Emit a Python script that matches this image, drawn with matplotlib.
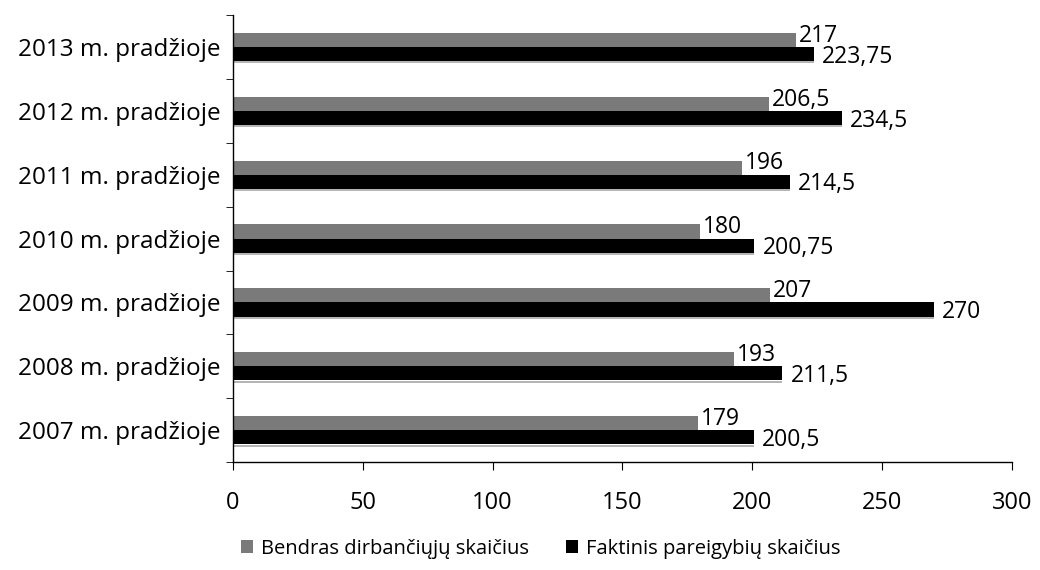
import matplotlib
matplotlib.use("Agg")
import matplotlib.pyplot as plt
import numpy as np

categories = ["2007 m. pradžioje", "2008 m. pradžioje", "2009 m. pradžioje",
              "2010 m. pradžioje", "2011 m. pradžioje", "2012 m. pradžioje",
              "2013 m. pradžioje"]
bendras = [179, 193, 207, 180, 196, 206.5, 217]
faktinis = [200.5, 211.5, 270, 200.75, 214.5, 234.5, 223.75]
series_names = ["Bendras dirbančiųjų skaičius", "Faktinis pareigybių skaičius"]
xticks = [0, 50, 100, 150, 200, 250, 300]

plt.rcParams['font.family'] = ['Open Sans', 'DejaVu Sans']

def fmt(v):
    s = ("%g" % v)
    return s.replace(".", ",")

fig = plt.figure(figsize=(10.4, 5.7), dpi=100)
ax = fig.add_axes([0.224, 0.189, 0.749, 0.785])

y = np.arange(len(categories))
h = 0.22
gray_bars = ax.barh(y + h / 2, bendras, height=h, color="#7a7a7a", label=series_names[0])
black_bars = ax.barh(y - h / 2, faktinis, height=h, color="#000000", label=series_names[1])
# faint shading line under the black bars (as in the scanned original)
ax.barh(y - h - 0.025, faktinis, height=0.03, color="#b5b5b5")

for rect, v in zip(gray_bars, bendras):
    ax.annotate(fmt(v), (rect.get_width(), rect.get_y() + rect.get_height() / 2),
                xytext=(2, 3), textcoords="offset points", ha="left", va="center",
                fontsize=16.5, color="black")
for rect, v in zip(black_bars, faktinis):
    ax.annotate(fmt(v), (rect.get_width(), rect.get_y() + rect.get_height() / 2),
                xytext=(6, -2), textcoords="offset points", ha="left", va="center",
                fontsize=16.5, color="black")

ax.set_xlim(0, 300)
ax.set_ylim(-0.5, len(categories) - 0.5)
ax.set_xticks(xticks)
ax.set_xticklabels([str(t) for t in xticks], fontsize=17)
ax.set_yticks(y)
ax.set_yticklabels(categories, fontsize=17.5)
ax.set_yticks(np.arange(len(categories) + 1) - 0.5, minor=True)
ax.tick_params(axis="y", which="major", length=0, pad=9)
ax.tick_params(axis="y", which="minor", length=5, direction="out")
ax.tick_params(axis="x", which="major", length=6, direction="out", pad=15)
for s in ["top", "right"]:
    ax.spines[s].set_visible(False)
ax.spines["left"].set_linewidth(1.0)
ax.spines["bottom"].set_linewidth(1.0)

fig.legend(handles=[gray_bars, black_bars], labels=series_names, loc="center",
           bbox_to_anchor=(0.52, 0.037), ncol=2, frameon=False, fontsize=14.5,
           handlelength=0.6, handleheight=0.6, columnspacing=1.8, handletextpad=0.4)

fig.savefig("out.png", dpi=100)
